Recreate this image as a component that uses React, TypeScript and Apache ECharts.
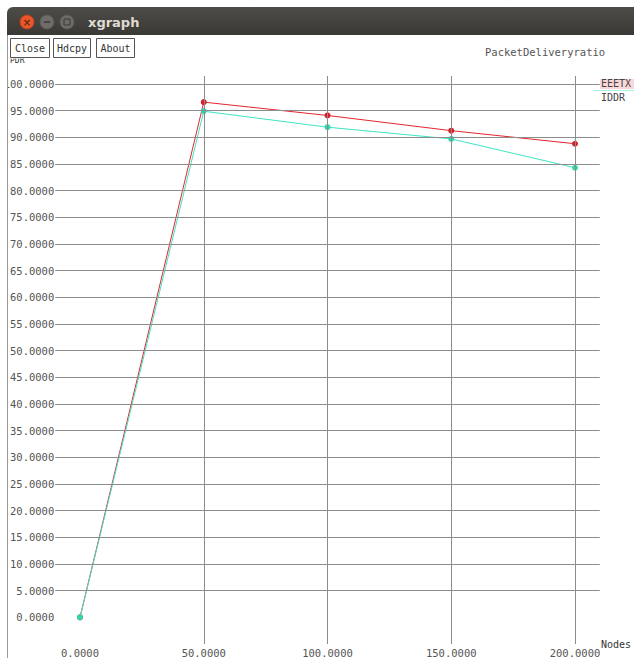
import React, { useEffect, useRef } from "react";
import * as echarts from "echarts";

const nodes = [0, 50, 100, 150, 200];
const eeetx = [0, 96.6, 94.1, 91.25, 88.8];
const iddr = [0, 94.9, 91.9, 89.7, 84.3];
const yTickValues = [0, 5, 10, 15, 20, 25, 30, 35, 40, 45, 50, 55, 60, 65, 70, 75, 80, 85, 90, 95, 100];
const xTickValues = [0, 50, 100, 150, 200];
const hGridValues = [5, 10, 15, 20, 25, 30, 35, 40, 45, 50, 55, 60, 65, 70, 75, 80, 85, 90, 95, 100];
const vGridValues = [50, 100, 150, 200];
const seriesNames = ["EEETX", "IDDR"];
const chartTitle = "PacketDeliveryratio";
const xAxisName = "Nodes";
const yAxisName = "PDR";
const buttons = ["Close", "Hdcpy", "About"];

const MONO = "'DejaVu Sans Mono', monospace";
const RED = "#e3262d";
const CYAN = "#3fe3c3";
const TXT = "#555";

export default function App() {
  const ref = useRef<HTMLDivElement>(null);
  useEffect(() => {
    if (!ref.current) return;
    const chart = echarts.init(ref.current, null, { renderer: "svg" });
    const buttonBoxes = [
      [10, 38, 39, 19],
      [53, 38, 37, 19],
      [96, 38, 38, 19],
    ];
    const graphics: any[] = [
      // partially hidden y axis name
      { type: "text", left: 10, top: 56, z: 1, style: { text: yAxisName, font: `8px ${MONO}`, fill: "#333" } },
      { type: "rect", shape: { x: 8, y: 35, width: 140, height: 23.5 }, style: { fill: "#fff" }, z: 2 },
      // title bar
      { type: "rect", shape: { x: 7, y: 7, width: 640, height: 28, r: [6, 6, 0, 0] }, style: { fill: new echarts.graphic.LinearGradient(0, 0, 0, 1, [{ offset: 0, color: "#4d4c48" }, { offset: 1, color: "#3a3935" }]) }, z: 50 },
      { type: "circle", shape: { cx: 27, cy: 22, r: 7 }, style: { fill: "#e9562a", stroke: "#b8401e", lineWidth: 1 }, z: 51 },
      { type: "text", x: 27, y: 22, style: { text: "×", font: "bold 10px 'DejaVu Sans'", fill: "#6b2a12", align: "center", verticalAlign: "middle" }, z: 52 },
      { type: "circle", shape: { cx: 47, cy: 22, r: 7 }, style: { fill: "#6d6c68", stroke: "#5a5955", lineWidth: 1 }, z: 51 },
      { type: "line", shape: { x1: 44, y1: 22, x2: 50, y2: 22 }, style: { stroke: "#3a3935", lineWidth: 1.5 }, z: 52 },
      { type: "circle", shape: { cx: 67, cy: 22, r: 7 }, style: { fill: "#6d6c68", stroke: "#5a5955", lineWidth: 1 }, z: 51 },
      { type: "rect", shape: { x: 64, y: 19, width: 6, height: 6 }, style: { fill: "none", stroke: "#3a3935", lineWidth: 1 }, z: 52 },
      { type: "text", x: 88, y: 22, style: { text: "xgraph", font: "bold 13px 'DejaVu Sans'", fill: "#dfdbd2", verticalAlign: "middle" }, z: 52 },
      // left border / cover
      { type: "rect", shape: { x: 0, y: 0, width: 7, height: 658 }, style: { fill: "#fff" }, z: 60 },
      { type: "rect", shape: { x: 0, y: 0, width: 634, height: 7 }, style: { fill: "#fff" }, z: 49 },
      { type: "line", shape: { x1: 7.5, y1: 35, x2: 7.5, y2: 658 }, style: { stroke: "#9a9a9a", lineWidth: 1 }, z: 61 },
      // chart title and axis name
      { type: "text", left: 485, top: 46, style: { text: chartTitle, font: `10.5px ${MONO}`, fill: TXT } },
      { type: "text", left: 601, top: 639, style: { text: xAxisName, font: `10px ${MONO}`, fill: "#333" } },
      // legend
      { type: "rect", shape: { x: 600, y: 79, width: 34, height: 10 }, style: { fill: "rgba(227,38,45,0.18)" } },
      { type: "line", shape: { x1: 593, y1: 90.5, x2: 634, y2: 90.5 }, style: { stroke: "rgba(63,227,195,0.45)", lineWidth: 1 } },
      { type: "text", left: 601, top: 78, style: { text: seriesNames[0], font: `10px ${MONO}`, fill: "#444" } },
      { type: "text", left: 601, top: 92, style: { text: seriesNames[1], font: `10px ${MONO}`, fill: "#444" } },
    ];
    buttons.forEach((b, i) => {
      const [x, y, w, h] = buttonBoxes[i];
      graphics.push({ type: "rect", shape: { x: x + 0.5, y: y + 0.5, width: w, height: h }, style: { fill: "#fff", stroke: "#555", lineWidth: 1 }, z: 5 });
      graphics.push({ type: "text", x: x + w / 2 + 0.5, y: y + h / 2 + 0.5, style: { text: b, font: `10px ${MONO}`, fill: "#333", align: "center", verticalAlign: "middle" }, z: 6 });
    });

    const gridLineStyle = { color: "#8c8c8c", width: 1, type: "solid" as const };
    chart.setOption({
      animation: false,
      backgroundColor: "#fff",
      graphic: graphics,
      grid: { left: 55.25, right: 634 - 599.75, top: 76, bottom: 658 - 644.7, containLabel: false },
      xAxis: {
        type: "value",
        min: -10,
        max: 210,
        axisLine: { show: false },
        axisTick: { show: false },
        splitLine: { show: false },
        axisLabel: {
          customValues: xTickValues,
          formatter: (v: number) => v.toFixed(4),
          fontFamily: "DejaVu Sans Mono",
          fontSize: 10.5,
          color: TXT,
          margin: 3,
        },
      },
      yAxis: {
        type: "value",
        min: -5,
        max: 101.5,
        axisLine: { show: false },
        axisTick: { show: false },
        splitLine: { show: false },
        axisLabel: {
          customValues: yTickValues,
          formatter: (v: number) => v.toFixed(4),
          fontFamily: "DejaVu Sans Mono",
          fontSize: 10.5,
          color: TXT,
          margin: 1,
        },
      },
      series: [
        {
          type: "line",
          data: [],
          silent: true,
          markLine: {
            silent: true,
            symbol: "none",
            animation: false,
            label: { show: false },
            lineStyle: gridLineStyle,
            emphasis: { disabled: true },
            data: [
              ...hGridValues.map((v) => ({ yAxis: v })),
              ...vGridValues.map((v) => ({ xAxis: v })),
            ],
          },
        },
        {
          name: seriesNames[0],
          type: "line",
          data: nodes.map((x, i) => [x, eeetx[i]]),
          symbol: "circle",
          symbolSize: 6,
          lineStyle: { color: RED, width: 1 },
          itemStyle: { color: "#d81f2a" },
          z: 3,
        },
        {
          name: seriesNames[1],
          type: "line",
          data: nodes.map((x, i) => [x, iddr[i]]),
          symbol: "circle",
          symbolSize: 6,
          lineStyle: { color: CYAN, width: 1 },
          itemStyle: { color: "#2fd6ae" },
          z: 4,
        },
      ],
    });
    return () => chart.dispose();
  }, []);
  return <div ref={ref} style={{ position: "fixed", left: 0, top: 0, width: 634, height: 658 }} />;
}
